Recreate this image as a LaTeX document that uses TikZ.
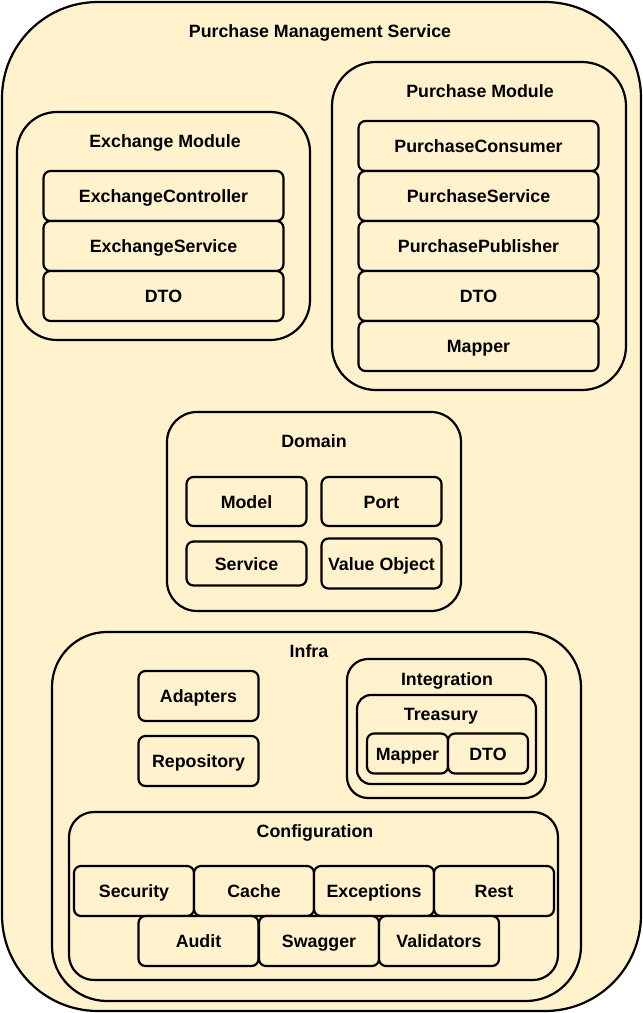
\documentclass[tikz,border=0pt]{standalone}
\usepackage{fontspec}
\setmainfont{Liberation Sans}
\definecolor{paleyellow}{HTML}{FFF2CC}

\begin{document}
\begin{tikzpicture}[x=1pt, y=-1pt,
       frame/.style={draw, line width=2.2pt, fill=paleyellow},
       label/.style={font=\bfseries\fontsize{17.8}{20}\selectfont,
         text height=16pt, text depth=2.3pt, inner sep=0pt},
       item/.style={frame, label, rounded corners=7pt,
         minimum width=120pt, minimum height=50pt}]
       \useasboundingbox (0,0) rectangle (643,1013);

       \draw[frame, rounded corners=96pt] (2,2) rectangle (641,1011);
       \node[label] (service) at (320,31) {Purchase Management Service};

       \draw[frame, rounded corners=40pt] (17,112) rectangle (310,340);
       \node[label] (exchange) at (165,141) {Exchange Module};
       \node[item, minimum width=240pt] (exchController) at (163.5,196) {ExchangeController};
       \node[item, minimum width=240pt] (exchService) at (163.5,246) {ExchangeService};
       \node[item, minimum width=240pt] (exchDto) at (163.5,296) {DTO};

       \draw[frame, rounded corners=44pt] (332,62) rectangle (626,390);
       \node[label] (purchase) at (480,91) {Purchase Module};
       \node[item, minimum width=240pt] (purchConsumer) at (478.5,146) {PurchaseConsumer};
       \node[item, minimum width=240pt] (purchService) at (478.5,196) {PurchaseService};
       \node[item, minimum width=240pt] (purchPublisher) at (478.5,246) {PurchasePublisher};
       \node[item, minimum width=240pt] (purchDto) at (478.5,296) {DTO};
       \node[item, minimum width=240pt] (purchMapper) at (478.5,346) {Mapper};

       \draw[frame, rounded corners=30pt] (167,412) rectangle (461,611);
       \node[label] (domain) at (314,441) {Domain};
       \node[item, minimum height=49pt] (model) at (246.5,501.5) {Model};
       \node[item, minimum height=49pt] (port) at (381.5,501.5) {Port};
       \node[item, minimum height=44pt] (domService) at (246.5,563.5) {Service};
       \node[item] (valueObject) at (381.5,563.5) {Value Object};

       \draw[frame, rounded corners=55pt] (52,632) rectangle (581,1001);
       \node[label] (infra) at (309,651) {Infra};
       \node[item] (adapters) at (198.5,696) {Adapters};
       \node[item] (repository) at (198.5,761) {Repository};

       \draw[frame, rounded corners=21pt] (347,659) rectangle (546,798);
       \node[label] (integration) at (447,679) {Integration};
       \draw[frame, rounded corners=14pt] (357,695) rectangle (536,784);
       \node[label] (treasury) at (441,714) {Treasury};
       \node[item, minimum width=81pt, minimum height=40pt] (treasMapper) at (407.5,753.5) {Mapper};
       \node[item, minimum width=80pt, minimum height=40pt] (treasDto) at (488,753.5) {DTO};

       \draw[frame, rounded corners=25pt] (69,812) rectangle (558,980);
       \node[label] (configuration) at (315,831) {Configuration};
       \node[item] (security) at (134,891) {Security};
       \node[item] (cache) at (254,891) {Cache};
       \node[item] (exceptions) at (374,891) {Exceptions};
       \node[item] (rest) at (494,891) {Rest};
       \node[item] (audit) at (198.5,941) {Audit};
       \node[item] (swagger) at (319,941) {Swagger};
       \node[item] (validators) at (439,941) {Validators};
     \end{tikzpicture}
\end{document}
